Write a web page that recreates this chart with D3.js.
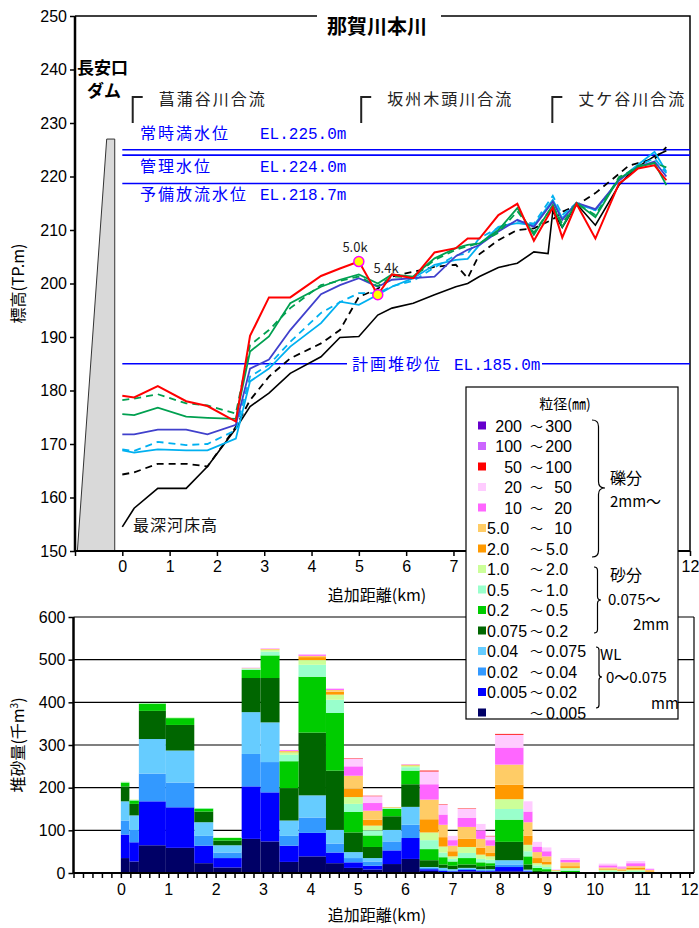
<!DOCTYPE html>
<html>
<head>
<meta charset="utf-8">
<script src="https://cdn.jsdelivr.net/npm/d3@7"></script>
<style>
  body { margin: 0; background: #fff; }
  svg { display: block; }
  text { font-family: "Noto Sans CJK JP", "Noto Sans", sans-serif; }
  .num { font-family: "Liberation Sans", Arial, sans-serif; }
  .mono { font-family: "Liberation Mono", "DejaVu Sans Mono", monospace; }
</style>
</head>
<body>
<svg id="chart" width="699" height="928"></svg>
<script>
// ---- longitudinal profile (km, elevation TP.m) ----
const sectionKm = [0, 0.25, 0.75, 1.35, 1.8, 2.4, 2.7, 3.1, 3.55, 4.2, 4.6, 5.0, 5.4, 5.7, 6.15, 6.6,
  7.05, 7.3, 7.55, 7.95, 8.35, 8.7, 9.0, 9.1, 9.3, 9.6, 10.0, 10.5, 10.7, 10.9, 11.25, 11.5];

const bedLowest = [154.5, 158.0, 161.7, 161.7, 165.8, 172.9, 177.0, 179.5, 183.2, 186.3, 189.9, 190.1, 194.1, 195.4, 196.3, 197.9,
  199.4, 200.0, 201.3, 203.0, 203.8, 205.9, 205.6, 213.5, 210.5, 214.9, 210.9, 218.4, 220.3, 221.8, 223.8, 224.8];
const bedBlackDash = [164.3, 164.7, 166.3, 166.3, 165.8, 173.2, 178.2, 182.6, 186.0, 188.8, 191.3, 197.5, 199.0, 201.3, 202.2, 203.1,
  203.5, 201.0, 205.5, 208.1, 210.0, 210.3, null, 212.0, 213.4, 214.6, 216.9, 220.5, 222.0, 222.5, 223.3, 225.5];
const bedCyanDash = [169.0, 168.7, 170.4, 169.8, 170.0, 172.6, 182.6, 184.8, 189.1, 194.5, 196.5, 198.2, 198.2, 199.5, 200.5, 203.0,
  205.3, 205.6, 208.5, 210.4, 211.6, 211.2, null, 216.4, 212.8, 215.0, 213.7, 219.3, 220.8, 222.0, 223.4, 220.6];
const bedCyan = [168.8, 168.4, 169.0, 168.8, 168.8, 171.0, 181.7, 184.1, 188.2, 192.6, 196.6, 196.0, 197.9, 199.4, 201.0, 203.5,
  204.4, 204.6, 207.2, 210.6, 211.3, 210.9, null, 215.6, 212.2, 215.0, 213.7, 219.3, 220.8, 222.2, 224.6, 220.9];
const bedIndigo = [171.8, 171.8, 172.7, 172.7, 171.8, 173.6, 184.1, 185.8, 191.3, 198.0, 199.7, 201.0, 199.4, 200.7, 201.0, 201.3,
  205.1, 206.3, 207.2, 209.7, 211.9, 210.6, null, 215.3, 211.9, 215.1, 213.9, 219.3, 220.6, 221.8, 222.8, 220.0];
const bedGreenDash = [178.2, 178.5, 179.3, 177.6, 177.2, 175.7, 188.5, 191.3, 195.4, 199.7, 200.5, 201.3, 199.5, 201.3, 201.2, 204.4,
  206.3, 207.0, 207.5, 209.5, 213.5, 209.5, null, 214.5, 211.2, 215.0, 212.8, 219.9, 220.8, 222.0, 222.5, 221.7];
const bedGreen = [175.6, 175.4, 176.8, 175.1, 174.9, 174.7, 187.3, 190.1, 196.3, 199.4, 200.7, 201.7, 200.0, 201.7, 201.3, 204.7,
  206.6, 207.2, 207.5, 210.0, 214.1, 209.1, null, 214.7, 210.6, 215.1, 212.4, 219.7, 220.6, 221.8, 222.5, 218.4];
const bedRed = [179.0, 178.7, 180.8, 178.0, 177.1, 174.2, 190.2, 197.4, 197.4, 201.4, 202.8, 204.1, 197.9, 201.7, 201.0, 205.8,
  206.6, 208.4, 208.4, 212.8, 214.9, 208.0, null, 214.2, 208.6, 214.9, 208.4, 218.7, 220.0, 221.5, 222.1, 219.3];

const markedKm = [5.0, 5.4];
const markedElev = [204.1, 197.9];
const markedText = ["5.0k", "5.4k"];

const waterLevels = [225.0, 224.0, 218.7];
const waterNames = ["常時満水位", "管理水位", "予備放流水位"];
const waterEL = ["EL.225.0m", "EL.224.0m", "EL.218.7m"];
const plannedLevel = 185.0;

const confluenceKm = [0.22, 5.05, 9.09];
const confluenceNames = ["菖蒲谷川合流", "坂州木頭川合流", "丈ケ谷川合流"];

const damOutline = [[-0.95, 150], [-0.33, 227], [-0.16, 227], [-0.16, 150]];

// ---- sediment volume (thousand m3) per reach ----
const barEdges = [0, 0.18, 0.38, 0.95, 1.55, 1.95, 2.55, 2.95, 3.35, 3.75, 4.33, 4.71, 5.11, 5.52, 5.92, 6.31, 6.71,
  6.9, 7.11, 7.5, 7.7, 7.9, 8.5, 8.69, 8.89, 9.09, 9.28, 9.69, 10.09, 10.48, 10.67, 11.07, 11.26];

const volUnder0005 = [35, 27, 65, 59, 23, 13, 80, 74, 26, 39, 23, 12, 8, 21, 33, 5, 2, 2, 4, 3, 3, 4, 1, 0.5, 0, 0, 0, 0, 0, 0, 0, 0];
const vol0005_002 = [55, 45, 103, 95, 41, 22, 123, 115, 38, 55, 25, 13, 9, 32, 49, 4, 3, 2, 3, 2, 2, 10, 3, 0.5, 0, 0, 0, 0, 0, 0, 0, 0];
const vol002_004 = [33, 29, 65, 58, 23, 13, 76, 71, 23, 36, 21, 10, 10, 21, 31, 3, 2, 2, 3, 2, 2, 6, 2, 0.5, 0, 0, 0, 0, 0, 0, 0, 0];
const vol004_0075 = [45, 34, 81, 75, 32, 17, 98, 93, 36, 52, 32, 14, 8, 27, 42, 2, 5, 3, 2, 2, 2, 10, 2, 0.5, 0, 0, 0.5, 0, 0, 0, 0, 0];
const vol0075_02 = [35, 27, 66, 60, 25, 11, 80, 104, 76, 147, 139, 46, 26, 32, 53, 16, 8, 8, 8, 7, 8, 43, 12, 3, 4, 1, 1.5, 0, 0.5, 0.5, 0.5, 0];
const vol02_05 = [9, 8, 17, 16, 7, 6, 19, 53, 63, 131, 135, 48, 27, 17, 32, 26, 17, 10, 15, 9, 6, 52, 19, 7, 5, 2, 3, 0, 1.5, 1, 1.5, 0];
const vol05_10 = [1, 1, 1, 1, 1, 1, 2, 9, 15, 28, 31, 19, 12, 2, 8, 21, 11, 6, 12, 8, 8, 25, 12, 6, 5, 1, 3, 0, 3, 2, 3, 1];
const vol10_20 = [1, 1, 0.5, 1, 0, 1, 2, 4, 6, 11, 12, 16, 11, 1, 4, 18, 14, 6, 14, 10, 8, 23, 15, 5, 6, 1, 4, 0, 3, 2, 3, 1];
const vol20_50 = [0, 0, 0, 0, 0, 0, 0, 1, 2, 7, 7, 20, 14, 1, 1, 31, 22, 12, 19, 16, 8, 34, 21, 12, 7, 1, 4, 0, 2, 2, 4, 2];
const vol50_10 = [0, 0, 0, 0, 0, 0, 0, 1, 1, 3, 4, 30, 21, 0, 1, 46, 29, 13, 28, 21, 17, 47, 32, 14, 12, 1, 9, 0, 3, 3, 4, 3];
const vol10_20g = [0, 0, 0, 0, 0, 0, 1, 1, 2, 3, 3, 22, 18, 0, 1, 36, 24, 13, 21, 20, 13, 40, 25, 13, 12, 0.5, 6, 0, 5, 3, 7, 2];
const vol20_50g = [0, 0, 0, 0, 0, 0, 0, 0.5, 0.5, 1, 1, 18, 16, 0, 0, 30, 23, 10, 21, 15, 9, 30, 24, 11, 9, 1, 4, 0, 4, 3, 5, 2];
const vol50_100g = [0, 0, 0, 0, 0, 0, 0, 0, 0, 0, 0, 1, 1, 0, 0, 2, 1, 0, 1, 0, 1, 2, 0, 0, 0, 0, 0, 0, 0, 0, 0, 0];
const vol100_200g = [0, 0, 0, 0, 0, 0, 0, 0, 0, 0, 0, 0, 0, 0, 0, 0, 0, 0, 0, 0, 0, 0, 0, 0, 0, 0, 0, 0, 0, 0, 0, 0];
const vol200_300g = [0, 0, 0, 0, 0, 0, 0, 0, 0, 0, 0, 0, 0, 0, 0, 0, 0, 0, 0, 0, 0, 0, 0, 0, 0, 0, 0, 0, 0, 0, 0, 0];

// legend labels, bottom class first
const classLeft = ["", "0.005", "0.02", "0.04", "0.075", "0.2", "0.5", "1.0", "2.0", "5.0", "10", "20", "50", "100", "200"];
const classRight = ["0.005", "0.02", "0.04", "0.075", "0.2", "0.5", "1.0", "2.0", "5.0", "10", "20", "50", "100", "200", "300"];

const yTicksTop = d3.range(150, 251, 10);
const yTicksBottom = d3.range(0, 601, 100);
const xLabelsTop = [0, 1, 2, 3, 4, 5, 6, 7, 12]; // 8-11 sit under the legend box

// ---------------------------------------------------------------
const classVolumes = [volUnder0005, vol0005_002, vol002_004, vol004_0075, vol0075_02, vol02_05, vol05_10, vol10_20,
  vol20_50, vol50_10, vol10_20g, vol20_50g, vol50_100g, vol100_200g, vol200_300g];
const classColors = ["#000066", "#0000ff", "#3399ff", "#66ccff", "#006600", "#00cc00", "#99ffcc", "#ccff99",
  "#ff9900", "#ffcc66", "#ff66ff", "#ffccff", "#ff0000", "#cc66ff", "#6600cc"];

const svg = d3.select("#chart");

const xTop = d3.scaleLinear().domain([-1, 12]).range([75, 690]);
const yTop = d3.scaleLinear().domain([150, 250]).range([551, 16]);
const xBot = d3.scaleLinear().domain([-1, 12.1]).range([73.5, 694]);
const yBot = d3.scaleLinear().domain([0, 600]).range([873, 617]);

// ===== top chart =====
const topG = svg.append("g");

// frame
topG.append("path")
  .attr("d", `M${xTop(-1)},${yTop(250)}H${xTop(12)}V${yTop(150)}`)
  .attr("fill", "none").attr("stroke", "#000").attr("stroke-width", 1.5);

// dam
topG.append("path")
  .attr("d", d3.line().x(d => xTop(d[0])).y(d => yTop(d[1]))(damOutline) + "Z")
  .attr("fill", "#d9d9d9").attr("stroke", "#333").attr("stroke-width", 1);

// water levels
topG.selectAll(".wl").data(waterLevels).enter().append("line")
  .attr("x1", xTop(0)).attr("x2", xTop(12))
  .attr("y1", d => yTop(d)).attr("y2", d => yTop(d))
  .attr("stroke", "#0000ff").attr("stroke-width", 1.6);

topG.append("line")
  .attr("x1", xTop(0)).attr("x2", xTop(12))
  .attr("y1", yTop(plannedLevel)).attr("y2", yTop(plannedLevel))
  .attr("stroke", "#0000ff").attr("stroke-width", 1.6);

const wlBase = [139, 172, 200];
waterNames.forEach((n, i) => {
  topG.append("text").attr("x", 140).attr("y", wlBase[i]).text(n)
    .attr("fill", "#0000ff").attr("font-size", 16).attr("letter-spacing", 2);
  topG.append("text").attr("class", "mono").attr("x", 260).attr("y", wlBase[i]).text(waterEL[i])
    .attr("fill", "#0000ff").attr("font-size", 16);
});

topG.append("rect").attr("x", 347).attr("y", yTop(plannedLevel) - 9).attr("width", 195).attr("height", 18).attr("fill", "#fff");
topG.append("text").attr("x", 352).attr("y", yTop(plannedLevel) + 6).text("計画堆砂位")
  .attr("fill", "#0000ff").attr("font-size", 16).attr("letter-spacing", 2);
topG.append("text").attr("class", "mono").attr("x", 454).attr("y", yTop(plannedLevel) + 6).text("EL.185.0m")
  .attr("fill", "#0000ff").attr("font-size", 16);

// confluence markers
confluenceKm.forEach((k, i) => {
  const x = xTop(k);
  topG.append("path").attr("d", `M${x},123V97h10`).attr("fill", "none").attr("stroke", "#222").attr("stroke-width", 2);
  topG.append("text").attr("x", x + 26).attr("y", 105).text(confluenceNames[i])
    .attr("font-size", 16).attr("letter-spacing", 2).attr("fill", "#222");
});

// profile lines
const profiles = [
  { v: bedLowest, c: "#000", dash: null, w: 1.6 },
  { v: bedBlackDash, c: "#000", dash: "7,5", w: 1.8 },
  { v: bedCyanDash, c: "#00b0f0", dash: "7,5", w: 1.8 },
  { v: bedCyan, c: "#00b0f0", dash: null, w: 1.8 },
  { v: bedIndigo, c: "#4040cc", dash: null, w: 1.8 },
  { v: bedGreenDash, c: "#00a050", dash: "7,5", w: 1.8 },
  { v: bedGreen, c: "#00a050", dash: null, w: 1.8 },
  { v: bedRed, c: "#ff0000", dash: null, w: 2 }
];
const lineGen = d3.line().x(d => xTop(d[0])).y(d => yTop(d[1]));
profiles.forEach(p => {
  const pts = sectionKm.map((k, i) => [k, p.v[i]]).filter(d => d[1] != null);
  topG.append("path").attr("d", lineGen(pts))
    .attr("fill", "none").attr("stroke", p.c).attr("stroke-width", p.w)
    .attr("stroke-dasharray", p.dash).attr("stroke-linejoin", "miter");
});

topG.selectAll(".mk").data(markedKm).enter().append("circle")
  .attr("cx", d => xTop(d)).attr("cy", (d, i) => yTop(markedElev[i])).attr("r", 5)
  .attr("fill", "#ffff00").attr("stroke", "#ff00ff").attr("stroke-width", 1.5);
topG.append("text").attr("x", 355).attr("y", 252).attr("text-anchor", "middle").text(markedText[0]).attr("font-size", 13).attr("fill", "#222");
topG.append("text").attr("x", 386).attr("y", 273).attr("text-anchor", "middle").text(markedText[1]).attr("font-size", 13).attr("fill", "#222");

topG.append("text").attr("x", 133).attr("y", 531).text("最深河床高").attr("font-size", 16).attr("letter-spacing", 1).attr("fill", "#111");

// dam label
topG.append("text").attr("x", 77).attr("y", 74).text("長安口").attr("font-size", 17).attr("font-weight", "bold");
topG.append("text").attr("x", 104).attr("y", 97).attr("text-anchor", "middle").text("ダム").attr("font-size", 17).attr("font-weight", "bold");

// title over frame
topG.append("rect").attr("x", 317).attr("y", 8).attr("width", 124).attr("height", 20).attr("fill", "#fff");
topG.append("text").attr("x", 377).attr("y", 34).attr("text-anchor", "middle").text("那賀川本川")
  .attr("font-size", 20).attr("font-weight", "bold");

// axes
const yAxisTop = topG.append("g").attr("transform", `translate(${xTop(-1)},0)`)
  .call(d3.axisLeft(yTop).tickValues(yTicksTop).tickSize(5).tickPadding(3));
const xAxisTop = topG.append("g").attr("transform", `translate(0,${yTop(150)})`)
  .call(d3.axisBottom(xTop).tickValues(d3.range(-1, 13)).tickFormat(d => xLabelsTop.includes(d) ? d : "").tickSize(5).tickPadding(5));
[yAxisTop, xAxisTop].forEach(a => {
  a.select(".domain").remove();
  a.selectAll("line").attr("stroke", "#000").attr("stroke-width", 1.5);
  a.selectAll("text").attr("class", "num").attr("font-size", 16).attr("fill", "#000");
});
xAxisTop.selectAll("text").filter(function () { return this.textContent === ""; }).remove();
topG.append("line").attr("x1", xTop(-1)).attr("x2", xTop(-1)).attr("y1", yTop(250)).attr("y2", yTop(150))
  .attr("stroke", "#000").attr("stroke-width", 2.5);
topG.append("line").attr("x1", xTop(-1)).attr("x2", xTop(12)).attr("y1", yTop(150)).attr("y2", yTop(150))
  .attr("stroke", "#000").attr("stroke-width", 2);

topG.append("text").attr("transform", `translate(24,${(yTop(150) + yTop(250)) / 2}) rotate(-90)`)
  .attr("text-anchor", "middle").text("標高(TP.m)").attr("font-size", 16);
topG.append("text").attr("x", 377).attr("y", 601).attr("text-anchor", "middle").text("追加距離(km)").attr("font-size", 16);

// ===== bottom chart =====
const botG = svg.append("g");

botG.selectAll(".grid").data(yTicksBottom.slice(1)).enter().append("line")
  .attr("x1", xBot(-1)).attr("x2", xBot(12.1))
  .attr("y1", d => yBot(d)).attr("y2", d => yBot(d))
  .attr("stroke", "#000").attr("stroke-width", 1.2);
botG.append("line").attr("x1", xBot(12.1)).attr("x2", xBot(12.1)).attr("y1", yBot(600)).attr("y2", yBot(0))
  .attr("stroke", "#000").attr("stroke-width", 1.2);

const keys = classVolumes.map((_, i) => "c" + i);
const barRows = barEdges.slice(0, -1).map((x0, i) => {
  const r = { x0: x0, x1: barEdges[i + 1] };
  classVolumes.forEach((arr, j) => { r["c" + j] = arr[i]; });
  return r;
});
const stacked = d3.stack().keys(keys)(barRows);

botG.selectAll(".layer").data(stacked).enter().append("g")
  .attr("fill", (d, i) => classColors[i])
  .selectAll("rect").data(d => d).enter().append("rect")
  .attr("x", d => xBot(d.data.x0))
  .attr("width", d => xBot(d.data.x1) - xBot(d.data.x0))
  .attr("y", d => yBot(d[1]))
  .attr("height", d => Math.max(0, yBot(d[0]) - yBot(d[1])));

const yAxisBot = botG.append("g").attr("transform", `translate(${xBot(-1)},0)`)
  .call(d3.axisLeft(yBot).tickValues(yTicksBottom).tickSize(5).tickPadding(3));
const xAxisBot = botG.append("g").attr("transform", `translate(0,${yBot(0)})`)
  .call(d3.axisBottom(xBot).tickValues(d3.range(0, 66).map(i => -1 + i * 0.2))
    .tickFormat(d => (Math.abs(d - Math.round(d)) < 1e-6 && d > -0.5) ? Math.round(d) : "")
    .tickSize(5).tickPadding(6));
[yAxisBot, xAxisBot].forEach(a => {
  a.select(".domain").remove();
  a.selectAll("line").attr("stroke", "#000").attr("stroke-width", 1.5);
  a.selectAll("text").attr("class", "num").attr("font-size", 16).attr("fill", "#000");
});
xAxisBot.selectAll("text").filter(function () { return this.textContent === ""; }).remove();
botG.append("line").attr("x1", xBot(-1)).attr("x2", xBot(-1)).attr("y1", yBot(600)).attr("y2", yBot(0))
  .attr("stroke", "#000").attr("stroke-width", 2.5);
botG.append("line").attr("x1", xBot(-1)).attr("x2", xBot(12.1)).attr("y1", yBot(0)).attr("y2", yBot(0))
  .attr("stroke", "#000").attr("stroke-width", 2);

const yl = botG.append("text").attr("transform", `translate(24,${(yBot(0) + yBot(600)) / 2}) rotate(-90)`)
  .attr("text-anchor", "middle").attr("font-size", 16);
yl.append("tspan").text("堆砂量(千m");
yl.append("tspan").text("3").attr("font-size", 10).attr("dy", -6);
yl.append("tspan").text(")").attr("dy", 6);
botG.append("text").attr("x", 377).attr("y", 921).attr("text-anchor", "middle").text("追加距離(km)").attr("font-size", 16);

// ===== legend =====
const lg = svg.append("g");
lg.append("rect").attr("x", 466).attr("y", 387).attr("width", 212).attr("height", 332)
  .attr("fill", "#fff").attr("stroke", "#000").attr("stroke-width", 1.2);
lg.append("text").attr("x", 565).attr("y", 409).attr("text-anchor", "middle").text("粒径(㎜)").attr("font-size", 14);

const rowY = i => 425.5 + 20.5 * i; // i = 0 is top row
const legendOrder = d3.range(classColors.length).reverse();
legendOrder.forEach((c, i) => {
  const y = rowY(i);
  lg.append("rect").attr("x", 478).attr("y", y - 4).attr("width", 8).attr("height", 8).attr("fill", classColors[c]);
  const left = classLeft[c];
  if (left) {
    const isInt = left.indexOf(".") < 0;
    lg.append("text").attr("class", "num").attr("x", isInt ? 522 : 487).attr("y", y + 6)
      .attr("text-anchor", isInt ? "end" : "start").text(left).attr("font-size", 16);
  }
  lg.append("text").attr("x", 530).attr("y", y + 5).text("～").attr("font-size", 13);
  const right = classRight[c];
  const rInt = right.indexOf(".") < 0;
  lg.append("text").attr("class", "num").attr("x", rInt ? 572 : 546).attr("y", y + 6)
    .attr("text-anchor", rInt ? "end" : "start").text(right).attr("font-size", 16);
});

function brace(x, y1, y2, ym, w) {
  return `M${x},${y1}Q${x + w},${y1} ${x + w},${y1 + w}L${x + w},${ym - w}Q${x + w},${ym} ${x + 2 * w},${ym}` +
    `Q${x + w},${ym} ${x + w},${ym + w}L${x + w},${y2 - w}Q${x + w},${y2} ${x},${y2}`;
}
lg.append("path").attr("d", brace(592, 420, 557, 488, 6.5)).attr("fill", "none").attr("stroke", "#000").attr("stroke-width", 1.2);
lg.append("path").attr("d", brace(594, 567, 633, 600, 3.5)).attr("fill", "none").attr("stroke", "#000").attr("stroke-width", 1.2);
lg.append("path").attr("d", brace(596, 647, 708, 677, 3)).attr("fill", "none").attr("stroke", "#000").attr("stroke-width", 1.2);

const braceText = [
  ["礫分", 610, 484, 16], ["2mm～", 610, 507, 15], ["砂分", 610, 581, 16], ["0.075～", 608, 605, 15], ["2mm", 633, 630, 15],
  ["WL", 600, 660, 15], ["0～0.075", 606, 683, 15], ["mm", 651, 709, 15]
];
braceText.forEach(t => {
  lg.append("text").attr("x", t[1]).attr("y", t[2]).text(t[0]).attr("font-size", t[3]);
});
</script>
</body>
</html>
